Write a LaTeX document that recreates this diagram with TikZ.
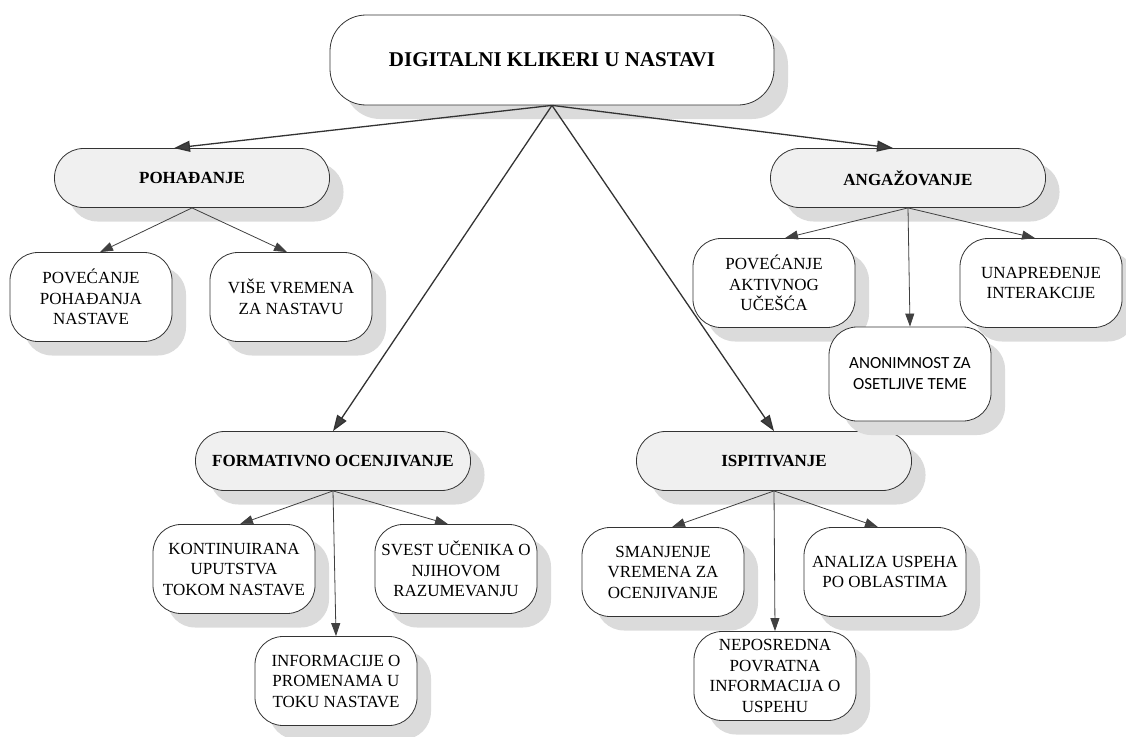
\documentclass[tikz,border=0pt]{standalone}
\usepackage{fontspec}
\setmainfont{Liberation Serif}
\newfontfamily\calibrifont{Carlito}
\usetikzlibrary{arrows.meta,shadows}
\begin{document}
\begin{tikzpicture}[x=1pt,y=-1pt,
  box/.style={draw=black!80,line width=0.8pt,align=center,inner sep=0pt,
    drop shadow={shadow xshift=14pt,shadow yshift=-14pt,fill=black!14,opacity=1}},
  rootbox/.style={box,fill=white,rounded corners=36pt,minimum width=444pt,minimum height=90pt,font=\rmfamily\fontsize{21}{25}\selectfont\bfseries},
  groupbox/.style={box,fill=gray!12,rounded corners=29pt,minimum width=275pt,minimum height=59pt,font=\rmfamily\fontsize{17}{20}\selectfont\bfseries},
  leafbox/.style={box,fill=white,rounded corners=28pt,minimum width=162pt,minimum height=89pt,font=\rmfamily\fontsize{17}{20.5}\selectfont},
  mainarrow/.style={draw=black!80,line width=1.3pt,-{Triangle[length=16pt,width=11pt,fill=black!75]}},
  subarrow/.style={draw=black!75,line width=0.8pt,-{Triangle[length=13pt,width=9pt,fill=black!75]}}]
\useasboundingbox (0,0) rectangle (1126,736);
\node[rootbox] (root) at (552,60) {DIGITALNI KLIKERI U NASTAVI};
\node[groupbox] (pohadjanje) at (192,178) {POHAĐANJE};
\node[groupbox] (angazovanje) at (908,178) {ANGAŽOVANJE};
\node[groupbox] (formativno) at (333,461) {FORMATIVNO OCENJIVANJE};
\node[groupbox] (ispitivanje) at (774,461) {ISPITIVANJE};
\node[leafbox] (povecanjePoh) at (91,297) {POVEĆANJE\\POHAĐANJA\\NASTAVE};
\node[leafbox] (viseVremena) at (291,297) {VIŠE VREMENA\\ZA NASTAVU};
\node[leafbox] (povecanjeAkt) at (774,283) {POVEĆANJE\\AKTIVNOG\\UČEŠĆA};
\node[leafbox] (unapredjenje) at (1041,283) {UNAPREĐENJE\\INTERAKCIJE};
\node[leafbox,minimum height=94pt,font=\calibrifont\fontsize{17}{21}\selectfont] (anonimnost) at (910,374) {ANONIMNOST ZA\\OSETLJIVE TEME};
\node[leafbox] (kontinuirana) at (234,569) {KONTINUIRANA\\UPUTSTVA\\TOKOM NASTAVE};
\node[leafbox] (svest) at (456,569) {SVEST UČENIKA O\\NJIHOVOM\\RAZUMEVANJU};
\node[leafbox] (informacije) at (336,681) {INFORMACIJE O\\PROMENAMA U\\TOKU NASTAVE};
\node[leafbox] (smanjenje) at (663,572) {SMANJENJE\\VREMENA ZA\\OCENJIVANJE};
\node[leafbox] (analiza) at (885,572) {ANALIZA USPEHA\\PO OBLASTIMA};
\node[leafbox] (neposredna) at (775,676) {NEPOSREDNA\\POVRATNA\\INFORMACIJA O\\USPEHU};
\draw[mainarrow] (root.south) -- ([xshift=-18pt]pohadjanje.north);
\draw[mainarrow] (root.south) -- ([xshift=-15pt]angazovanje.north);
\draw[mainarrow] (root.south) -- (formativno.north);
\draw[mainarrow] (root.south) -- (ispitivanje.north);
\draw[subarrow] (pohadjanje.south) -- ([xshift=9pt]povecanjePoh.north);
\draw[subarrow] (pohadjanje.south) -- ([xshift=-4pt]viseVremena.north);
\draw[subarrow] (angazovanje.south) -- ([xshift=11pt]povecanjeAkt.north);
\draw[subarrow] (angazovanje.south) -- (anonimnost.north);
\draw[subarrow] (angazovanje.south) -- ([xshift=-6pt]unapredjenje.north);
\draw[subarrow] (formativno.south) -- ([xshift=6pt]kontinuirana.north);
\draw[subarrow] (formativno.south) -- (informacije.north);
\draw[subarrow] (formativno.south) -- ([xshift=-8pt]svest.north);
\draw[subarrow] (ispitivanje.south) -- ([xshift=9pt]smanjenje.north);
\draw[subarrow] (ispitivanje.south) -- (neposredna.north);
\draw[subarrow] (ispitivanje.south) -- ([xshift=-7pt]analiza.north);
\end{tikzpicture}
\end{document}
